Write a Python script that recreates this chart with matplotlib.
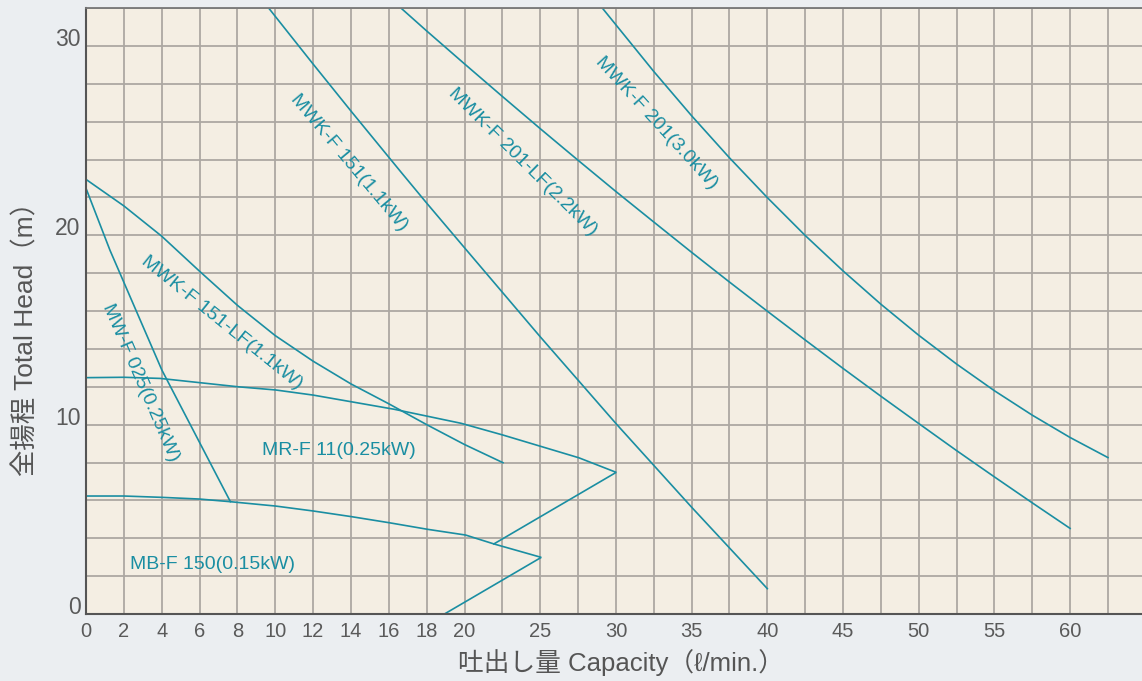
import numpy as np
import matplotlib
matplotlib.use("Agg")
import matplotlib.pyplot as plt

# curve data (capacity l/min, head m)
mwf025_x = [0, 1.27, 4.01, 7.63]
mwf025_y = [22.48, 19.2, 12.88, 5.93]

mwkf151lf_x = [0, 2, 4, 6, 8, 10, 12, 14, 16, 18, 20, 22.54]
mwkf151lf_y = [22.95, 21.55, 19.95, 18.1, 16.3, 14.7, 13.35, 12.15, 11.1, 10.0, 8.95, 7.99]

mrf11_x = [0, 2, 3.92, 8.02, 10.02, 12.0, 16.29, 19.82, 22.54, 27.55, 30.02, 21.94]
mrf11_y = [12.48, 12.5, 12.44, 12.0, 11.83, 11.56, 10.81, 10.07, 9.45, 8.25, 7.48, 3.70]

mbf150_x = [0, 2, 4, 6, 7.63, 10.02, 12, 14.03, 16.02, 18.06, 20.07, 21.94, 25.07, 18.94]
mbf150_y = [6.23, 6.23, 6.16, 6.07, 5.93, 5.70, 5.44, 5.14, 4.82, 4.47, 4.17, 3.70, 2.99, 0.0]

mwkf151_x = [9.65, 12, 14, 16.64, 18, 20, 25, 30, 35, 40]
mwkf151_y = [32.0, 29.04, 26.56, 23.34, 21.7, 19.34, 14.64, 10.06, 5.64, 1.34]

mwkf201lf_x = [16.64, 18, 20, 22.5, 25, 27.5, 30, 32.5, 35, 37.5, 40,
               42.5, 45, 47.5, 50, 52.5, 55, 57.5, 60]
mwkf201lf_y = [32.0, 30.79, 29.05, 27.33, 25.63, 23.96, 22.31, 20.7, 19.1, 17.53, 15.99,
               14.47, 12.97, 11.5, 10.06, 8.63, 7.24, 5.87, 4.52]

mwkf201_x = [29.1, 32.5, 35, 37.5, 40, 42.5, 45, 47.5, 50, 52.5, 55, 57.5, 60, 62.5]
mwkf201_y = [32.0, 28.65, 26.31, 24.09, 21.99, 19.99, 18.12, 16.36, 14.72, 13.2,
             11.79, 10.5, 9.32, 8.26]

curves = [
    (mwf025_x, mwf025_y),
    (mwkf151lf_x, mwkf151lf_y),
    (mrf11_x, mrf11_y),
    (mbf150_x, mbf150_y),
    (mwkf151_x, mwkf151_y),
    (mwkf201lf_x, mwkf201lf_y),
    (mwkf201_x, mwkf201_y),
]

# label text, position (data), rotation
labels = [
    ("MWK-F 151(1.1kW)", 13.89, 23.81, -50),
    ("MWK-F 201-LF(2.2kW)", 23.81, 23.86, -44.7),
    ("MWK-F 201(3.0kW)", 32.66, 25.95, -47.6),
    ("MWK-F 151-LF(1.1kW)", 7.19, 15.39, -38.9),
    ("MW-F 025(0.25kW)", 2.86, 12.22, -66.6),
    ("MR-F 11(0.25kW)", 13.38, 8.61, 0),
    ("MB-F 150(0.15kW)", 6.66, 2.59, 0),
]

xtick_major = [0, 2, 4, 6, 8, 10, 12, 14, 16, 18, 20, 25, 30, 35, 40, 45, 50, 55, 60]
xtick_minor = [22.5, 27.5, 32.5, 37.5, 42.5, 47.5, 52.5, 57.5, 62.5]
ytick_major = [0, 10, 20, 30]
ytick_minor = [2, 4, 6, 8, 12, 14, 16, 18, 22, 24, 26, 28, 32]


# broken x scale: 2 units per cell below 20, 2.5 units per cell above
def fwd(x):
    x = np.asarray(x, dtype=float)
    return np.where(x <= 20, x / 2.0, 10 + (x - 20) / 2.5)


def inv(u):
    u = np.asarray(u, dtype=float)
    return np.where(u <= 10, u * 2.0, 20 + (u - 10) * 2.5)


teal = "#1a8ea2"
gray_txt = "#5a5a5a"
fam = ["Liberation Sans", "Noto Sans CJK JP"]

W, H = 1142, 681
fig = plt.figure(figsize=(W / 100, H / 100), dpi=100, facecolor="#ebeef1")
ax = fig.add_axes([86 / W, (H - 614) / H, (W - 86) / W, 606 / H])
ax.set_facecolor("#f4eee3")
ax.set_xscale("function", functions=(fwd, inv))
ax.set_xlim(0, float(inv(1056 / 37.85)))
ax.set_ylim(0, 32)

ax.set_xticks(xtick_major)
ax.set_xticks(xtick_minor, minor=True)
ax.set_yticks(ytick_major)
ax.set_yticks(ytick_minor, minor=True)
ax.set_xticklabels([str(v) for v in xtick_major])
ax.set_yticklabels([str(v) for v in ytick_major])
ax.tick_params(which="both", length=0)
ax.tick_params(axis="x", pad=6, labelsize=14.5, labelcolor=gray_txt)
ax.tick_params(axis="y", pad=4, labelsize=16.5, labelcolor=gray_txt)
for lab in ax.get_xticklabels() + ax.get_yticklabels():
    lab.set_family(fam)
for lab in ax.get_yticklabels():
    lab.set_verticalalignment("baseline")

ax.grid(True, which="both", color="#aca8a2", linewidth=1.3)
ax.set_axisbelow(True)
for side in ["left", "bottom"]:
    ax.spines[side].set_color("#555555")
    ax.spines[side].set_linewidth(1.5)
ax.spines["top"].set_color("#777777")
ax.spines["top"].set_linewidth(1.3)
ax.spines["right"].set_visible(False)

for cx, cy in curves:
    ax.plot(cx, cy, color=teal, linewidth=1.2, solid_joinstyle="miter")

for txt, tx, ty, rot in labels:
    ax.text(tx, ty, txt, color=teal, fontsize=14, family=fam, rotation=rot,
            rotation_mode="anchor", ha="center", va="center")

fig.text(621 / W, 1 - 663 / H, "吐出し量 Capacity（ℓ/min.）", color="#555555",
         fontsize=18.5, family=fam, ha="center", va="center")
fig.text(26 / W, 1 - 332 / H, "全揚程 Total Head（m）", color="#555555",
         fontsize=19, family=fam, ha="center", va="center", rotation=90)

fig.savefig("out.png", dpi=100, facecolor=fig.get_facecolor())
